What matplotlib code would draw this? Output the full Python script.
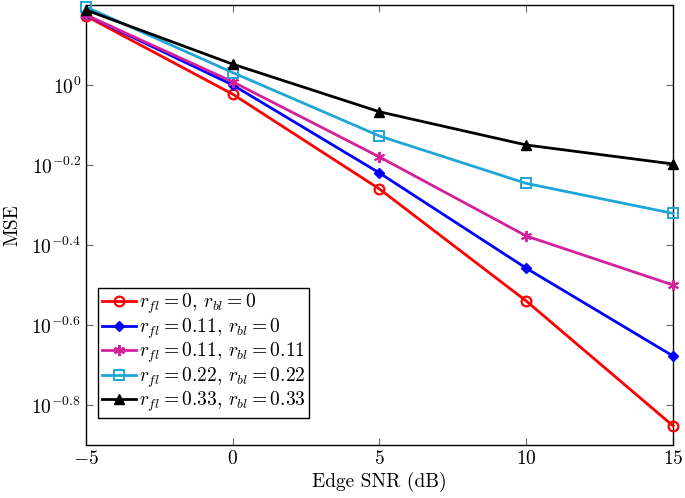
import matplotlib
matplotlib.use("Agg")
import matplotlib.pyplot as plt
import numpy as np

plt.rcParams['font.family'] = ['cmr10', 'DejaVu Serif']
plt.rcParams['mathtext.fontset'] = 'cm'
plt.rcParams['axes.formatter.use_mathtext'] = True

snr = [-5, 0, 5, 10, 15]
log_mse = {
    'red':     [0.1725, -0.023, -0.26, -0.54, -0.852],
    'blue':    [0.175, 0.0, -0.22, -0.458, -0.6775],
    'magenta': [0.175, 0.008, -0.18, -0.3775, -0.5],
    'cyan':    [0.195, 0.031, -0.1275, -0.246, -0.321],
    'black':   [0.1875, 0.052, -0.067, -0.15, -0.1975],
}
labels = [
    r'$r_{fl}=0$, $r_{bl}=0$',
    r'$r_{fl}=0.11$, $r_{bl}=0$',
    r'$r_{fl}=0.11$, $r_{bl}=0.11$',
    r'$r_{fl}=0.22$, $r_{bl}=0.22$',
    r'$r_{fl}=0.33$, $r_{bl}=0.33$',
]
ytick_exp = [0, -0.2, -0.4, -0.6, -0.8]
xticks = [-5, 0, 5, 10, 15]

styles = [
    dict(color='#ff0000', marker='o', mfc='none', ms=7, mew=1.6),
    dict(color='#0000ff', marker='D', mfc='#0000ff', ms=5, mew=1.0),
    dict(color='#d4219b', marker=(6, 2, 0), ms=8, mew=1.4),
    dict(color='#1fa6d6', marker='s', mfc='none', ms=7, mew=1.4),
    dict(color='#000000', marker='^', mfc='#000000', ms=7, mew=1.0),
]

fig = plt.figure(figsize=(6.85, 4.98), dpi=100)
ax = fig.add_axes([0.1255, 0.1064, 0.857, 0.8836])

for key, lab, st in zip(['red', 'blue', 'magenta', 'cyan', 'black'], labels, styles):
    y = 10 ** np.array(log_mse[key])
    ax.plot(snr, y, lw=2, label=lab, clip_on=False, zorder=3, **st)

ax.set_yscale('log')
ax.set_xlim(-5, 15)
ax.set_ylim(10 ** -0.9, 10 ** 0.2)
ax.set_xticks(xticks)
ax.set_xticklabels([r'$%d$' % v if v >= 0 else r'$-%d$' % (-v) for v in xticks])
ax.set_yticks([10 ** e for e in ytick_exp])
ax.set_yticklabels([r'$10^{%s}$' % ('0' if e == 0 else '%.1f' % e) for e in ytick_exp])
ax.minorticks_off()
ax.tick_params(direction='in', length=5, width=0.8, top=True, right=True, labelsize=14, color='0.4')
for s in ax.spines.values():
    s.set_linewidth(1.0)

ax.set_xlabel('Edge SNR (dB)', fontsize=14, labelpad=3)
ax.set_ylabel('MSE', fontsize=14, labelpad=7)

leg = ax.legend(loc='lower left', bbox_to_anchor=(0.02, 0.061), fontsize=14,
                handlelength=1.75, handletextpad=0.15, labelspacing=0.0,
                borderpad=0.2, borderaxespad=0.0, fancybox=False,
                edgecolor='black', framealpha=1)
leg.get_frame().set_linewidth(1.0)

fig.savefig('out.png', dpi=100)
